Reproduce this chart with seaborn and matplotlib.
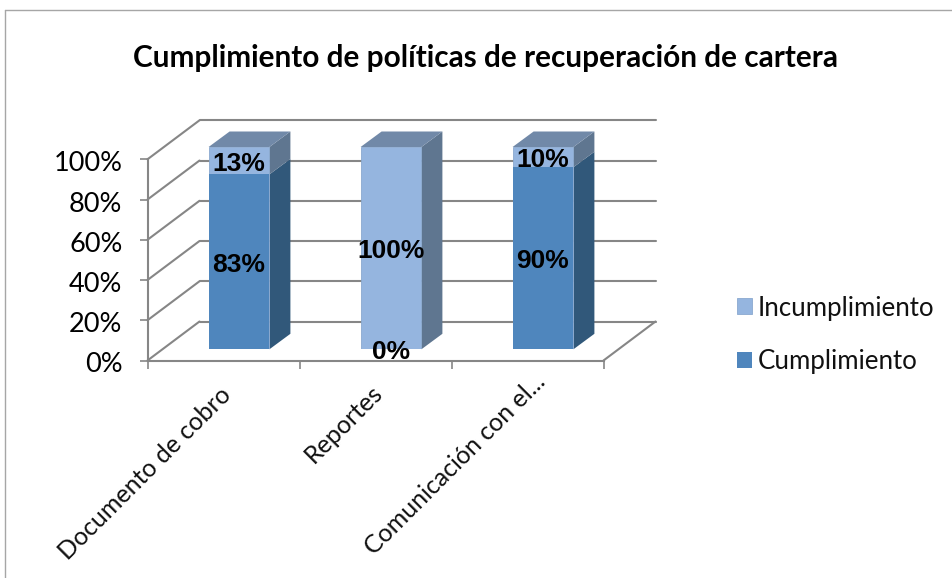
import matplotlib
matplotlib.use("Agg")
import matplotlib.pyplot as plt
from matplotlib.lines import Line2D
from matplotlib.patches import Polygon
from matplotlib.transforms import ScaledTranslation
import numpy as np
import seaborn as sns

categorias = ["Documento de cobro", "Reportes", "Comunicación con el..."]
cumplimiento = [83, 0, 90]
incumplimiento = [13, 100, 10]
ticks_y = [0, 20, 40, 60, 80, 100]
titulo = "Cumplimiento de políticas de recuperación de cartera"

W, H = 953, 578
GRIS = "#868686"
AZUL = "#4f86bd"
AZUL_CLARO = "#95b5df"
LADO = "#31587a"
LADO_CLARO = "#5f7690"
TAPA = "#7189a8"

sns.set_theme(style="white")
plt.rcParams["font.family"] = ["Lato", "DejaVu Sans"]


def caja(x0, y_top, x1, y_bottom):
    # pixeles de la imagen a fracciones de figura
    return [x0 / W, 1 - y_bottom / H, (x1 - x0) / W, (y_bottom - y_top) / H]


def mover(texto, px_x, px_y):
    # desplaza un texto unos pixeles (y positivo hacia abajo)
    texto.set_transform(texto.get_transform()
                        + ScaledTranslation(px_x / 100, -px_y / 100, fig.dpi_scale_trans))


fig = plt.figure(figsize=(W / 100, H / 100), dpi=100)

# Marco del grafico (solo arriba e izquierda)
fig.add_artist(Line2D([5 / W, 5 / W], [0, 1 - 10 / H], color="#a6a6a6", lw=1))
fig.add_artist(Line2D([5 / W, 1], [1 - 10 / H, 1 - 10 / H], color="#a6a6a6", lw=1))

fig.text(485.5 / W, 1 - 58 / H, titulo, ha="center", va="center",
         fontsize=21.4, fontweight="bold", color="black")

# Ejes del plano frontal: paredes, rejilla y etiquetas
ax = fig.add_axes(caja(147.5, 159.3, 603.5, 360.5))
ax.set_xlim(-0.5, 2.5)
ax.set_ylim(0, 100)
prof_x = 52 / (456 / 3)
prof_y = 39 / 201.2 * 100
for t in ticks_y:
    ax.plot([-0.5, -0.5 + prof_x], [t, t + prof_y], color=GRIS, lw=1.5,
            clip_on=False, zorder=1, solid_capstyle="round")
    ax.plot([-0.5 + prof_x, 2.5 + prof_x], [t + prof_y, t + prof_y], color=GRIS,
            lw=1.5, clip_on=False, zorder=1)
ax.plot([2.5, 2.5 + prof_x], [0, prof_y], color=GRIS, lw=1.5, clip_on=False, zorder=1)

for lado in ["top", "right"]:
    ax.spines[lado].set_visible(False)
for lado in ["left", "bottom"]:
    ax.spines[lado].set_color(GRIS)
    ax.spines[lado].set_linewidth(1.5)

ax.set_yticks(ticks_y)
ax.set_yticklabels([f"{t}%" for t in ticks_y], fontsize=19.5, color="black")
ax.set_xticks(np.arange(-0.5, 3, 1))
ax.set_xticklabels([])
ax.set_xticks(range(len(categorias)), minor=True)
ax.set_xticklabels(categorias, minor=True, rotation=45, ha="right",
                   rotation_mode="anchor", fontsize=18, color="#111111")
ax.tick_params(axis="both", which="major", length=6, width=1.2, color=GRIS,
               bottom=True, left=True)
ax.tick_params(axis="y", pad=12)
ax.tick_params(axis="x", which="minor", length=0, pad=17.5)
for etiqueta in ax.get_yticklabels():
    mover(etiqueta, 0, 2)
for etiqueta, (px, py) in zip(ax.get_xticklabels(minor=True), [(-4, -2), (-5, -4), (6, -15)]):
    mover(etiqueta, px, py)

# Barras apiladas al 100%, en un plano desplazado hacia el fondo
total = np.array(cumplimiento) + np.array(incumplimiento)
parte_baja = np.array(cumplimiento) / total * 100

ax_b = fig.add_axes(caja(163, 147, 619, 349.3))
ax_b.patch.set_alpha(0)
sns.barplot(x=categorias, y=[100] * 3, color=AZUL_CLARO, width=0.4, saturation=1,
            label="Incumplimiento", ax=ax_b, zorder=3, edgecolor="#8aa9cf", linewidth=0.6)
sns.barplot(x=categorias, y=parte_baja, color=AZUL, width=0.4, saturation=1,
            label="Cumplimiento", ax=ax_b, zorder=4, linewidth=0)
ax_b.set_xlim(-0.5, 2.5)
ax_b.set_ylim(0, 100)
ax_b.axis("off")

dx = 21 / (456 / 3)
dy = 15.5 / 202.3 * 100
ancho = 0.4
for i, baja in enumerate(parte_baja):
    x1 = i + ancho / 2
    x0 = i - ancho / 2
    # cara lateral de cada tramo y tapa superior
    ax_b.add_patch(Polygon([(x1, 0), (x1 + dx, dy), (x1 + dx, baja + dy), (x1, baja)],
                           facecolor=LADO, edgecolor="none", clip_on=False, zorder=2))
    ax_b.add_patch(Polygon([(x1, baja), (x1 + dx, baja + dy), (x1 + dx, 100 + dy), (x1, 100)],
                           facecolor=LADO_CLARO, edgecolor="none", clip_on=False, zorder=2))
    ax_b.add_patch(Polygon([(x0, 100), (x0 + dx, 100 + dy), (x1 + dx, 100 + dy), (x1, 100)],
                           facecolor=TAPA, edgecolor="none", clip_on=False, zorder=2))
    # etiquetas de datos
    for valor, centro in [(cumplimiento[i], baja / 2), (incumplimiento[i], (baja + 100) / 2)]:
        txt = ax_b.text(i, centro, f"{valor}%", ha="center", va="center", fontsize=19,
                        fontweight="bold", family=["Liberation Sans"], color="black",
                        zorder=6, clip_on=False)
        mover(txt, 0, 3)

ax_b.legend(loc="center left", bbox_to_anchor=(737 / W, 1 - 335 / H),
            bbox_transform=fig.transFigure, frameon=False, fontsize=18.6,
            handlelength=0.58, handleheight=0.58, handletextpad=0.23,
            labelspacing=1.12, borderpad=0, borderaxespad=0, labelcolor="#111111")

fig.savefig("out.png", dpi=100)
